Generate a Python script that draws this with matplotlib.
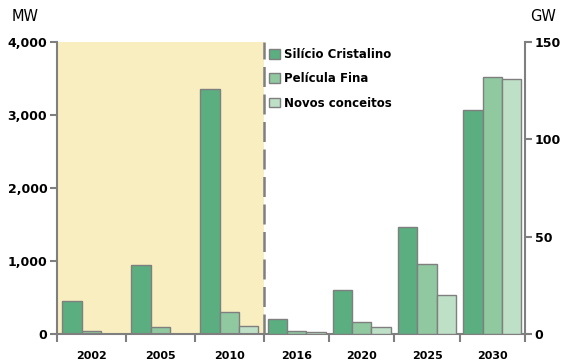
import matplotlib
matplotlib.use("Agg")
import matplotlib.pyplot as plt
from matplotlib.patches import Patch
import numpy as np

plt.rcParams['font.family'] = ['DejaVu Sans']

years = ["2002", "2005", "2010", "2016", "2020", "2025", "2030"]
series = ["Silício Cristalino", "Película Fina", "Novos conceitos"]

# Historical capacity (MW, left axis)
hist_mw = {
    "Silício Cristalino": [450, 950, 3350],
    "Película Fina": [40, 95, 300],
    "Novos conceitos": [0, 0, 110],
}
# Projected capacity (GW, right axis)
proj_gw = {
    "Silício Cristalino": [7.5, 22.5, 55, 115],
    "Película Fina": [1.7, 6.3, 36, 132],
    "Novos conceitos": [0.8, 3.4, 20, 131],
}

mw_ticks = [0, 1000, 2000, 3000, 4000]
mw_labels = ["0", "1,000", "2,000", "3,000", "4,000"]
gw_ticks = [0, 50, 100, 150]

colors = ["#5aae80", "#90c8a0", "#bee0c6"]
edge = "#7f7f7f"
shade = "#f8eec0"

fig = plt.figure(figsize=(5.63, 3.6), dpi=100)
ax = fig.add_axes([0.1012, 0.0722, 0.8313, 0.8111])
ax2 = ax.twinx()

n_hist = len(hist_mw[series[0]])
n_proj = len(proj_gw[series[0]])

# historical slots are one unit wide; projection slots are slightly narrower
proj_step = 0.946
edges = np.concatenate([np.arange(n_hist + 1),
                        n_hist + proj_step * np.arange(1, n_proj + 1)])
centers = (edges[:-1] + edges[1:]) / 2
w = 0.28

ax.axvspan(edges[0], edges[n_hist], color=shade, zorder=0, lw=0)

for i, s in enumerate(series):
    off = (i - 1) * w
    ax.bar(centers[:n_hist] + off, hist_mw[s], width=w, color=colors[i],
           edgecolor=edge, linewidth=1, zorder=2)
    ax2.bar(centers[n_hist:] + off, proj_gw[s], width=w, color=colors[i],
            edgecolor=edge, linewidth=1, zorder=2)

ax.set_xlim(edges[0], edges[-1])
ax.set_ylim(0, 4000)
ax2.set_ylim(0, 150)

ax.axvline(edges[n_hist], color=edge, lw=1.8, ls=(0, (8, 3)), zorder=3)

for a in (ax, ax2):
    a.spines["top"].set_visible(False)
    for sp in a.spines.values():
        sp.set_color(edge)
        sp.set_linewidth(1.5)
ax.spines["right"].set_visible(False)
ax2.spines["left"].set_visible(False)
ax2.spines["bottom"].set_visible(False)

ax.set_yticks(mw_ticks)
ax.set_yticklabels(mw_labels)
ax2.set_yticks(gw_ticks)
ax2.set_yticklabels([str(t) for t in gw_ticks])

ax.tick_params(axis="y", length=5, width=1.5, color=edge, pad=2, labelsize=9)
ax2.tick_params(axis="y", length=5, width=1.5, color=edge, pad=2, labelsize=9)
for lab in ax.get_yticklabels() + ax2.get_yticklabels():
    lab.set_fontweight("bold")

ax.set_xticks(centers)
ax.set_xticklabels(years, fontsize=8, fontweight="bold")
ax.set_xticks(edges, minor=True)
ax.tick_params(axis="x", which="major", length=0, pad=12)
ax.tick_params(axis="x", which="minor", length=6, width=1.5, color=edge)

fig.text(0.02, 0.955, "MW", fontsize=10.5, ha="left", va="center")
fig.text(0.941, 0.955, "GW", fontsize=10.5, ha="left", va="center")

handles = [Patch(facecolor=c, edgecolor=edge, linewidth=1) for c in colors]
leg = ax.legend(handles, series, loc="upper left", bbox_to_anchor=(0.443, 0.995),
                frameon=False, handlelength=0.9, handleheight=0.9,
                handletextpad=0.4, labelspacing=0.95, borderaxespad=0,
                prop=dict(size=8.5, weight="bold"))
leg.set_zorder(5)

fig.savefig("out.png", dpi=100)
